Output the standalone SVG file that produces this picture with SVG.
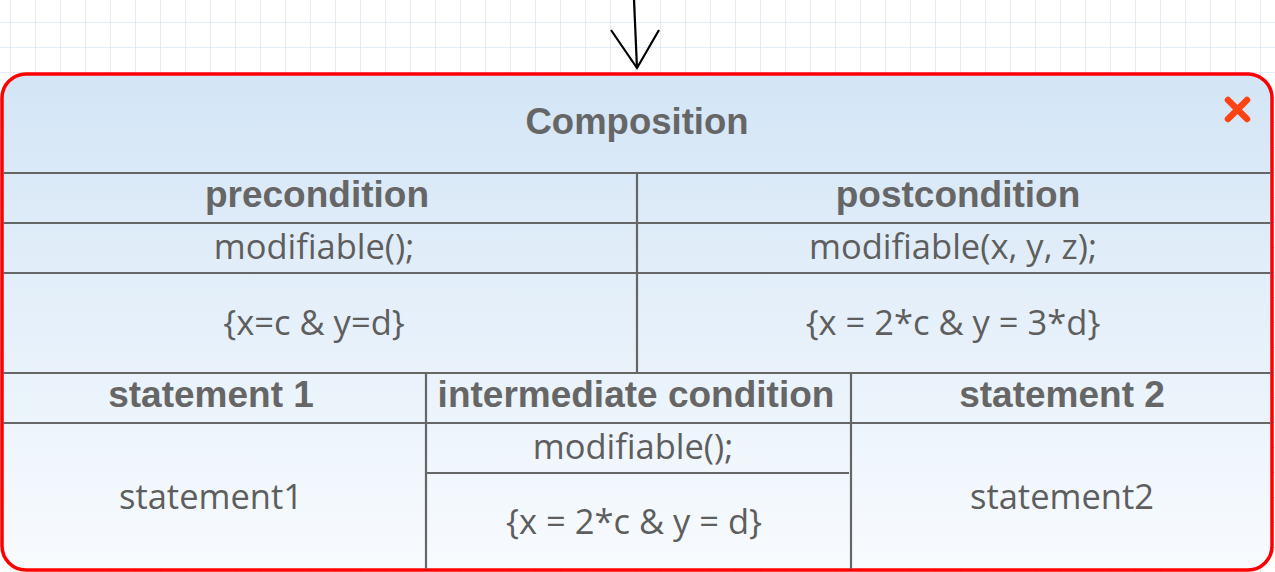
<svg xmlns="http://www.w3.org/2000/svg" width="1275" height="572" viewBox="0 0 1275 572">
<defs>
<pattern id="grid" x="10" y="22" width="25" height="25" patternUnits="userSpaceOnUse">
<path d="M0 0V25M0 0H25" fill="none" stroke="#dbe6f4" stroke-width="1.5"/>
</pattern>
<linearGradient id="bg" x1="0" y1="0" x2="0" y2="1">
<stop offset="0" stop-color="#d3e5f6"/>
<stop offset="1" stop-color="#f8fbfe"/>
</linearGradient>
</defs>
<style>
.div{stroke:#666;stroke-width:2.2;fill:none}
.title{font-family:"Liberation Sans",Arial,sans-serif;font-weight:bold;font-size:37px;fill:#666;text-anchor:middle}
.body{font-family:"Open Sans","Noto Sans",sans-serif;font-size:34.5px;fill:#5e5e5e;text-anchor:middle}
.conn{stroke:#000;stroke-width:2.2;fill:none}
</style>
<rect width="1275" height="572" fill="#fff"/>
<rect width="1275" height="572" fill="url(#grid)"/>
<g id="connectors">
<path class="conn" d="M634 0L637 68"/>
<path class="conn" d="M611 30L637 68L659 30"/>
</g>
<g id="composition">
<rect x="2" y="74" width="1270" height="496" rx="24" fill="url(#bg)" stroke="#ff0000" stroke-width="3.5"/>
<text class="title" x="637" y="134" style="font-size:36.5px">Composition</text>
<path d="M1228 100L1247 119M1247 100L1228 119" stroke="#ff4414" stroke-width="6.5" stroke-linecap="round"/>
<path class="div" d="M3 173H1271M3 223H1271M3 273H1271M3 373H1271M3 423H1271M637 173V373M426 373V569M851 373V569M427 473H849"/>
<text class="title" x="317" y="207">precondition</text>
<text class="title" x="958" y="207">postcondition</text>
<text class="body" x="314" y="259">modifiable();</text>
<text class="body" x="953" y="259">modifiable(x, y, z);</text>
<text class="body" x="314" y="335">{x=c &amp; y=d}</text>
<text class="body" x="953" y="335">{x = 2*c &amp; y = 3*d}</text>
<text class="title" x="211" y="407">statement 1</text>
<text class="title" x="636" y="407">intermediate condition</text>
<text class="title" x="1062" y="407">statement 2</text>
<text class="body" x="211" y="509">statement1</text>
<text class="body" x="633" y="459">modifiable();</text>
<text class="body" x="634" y="534">{x = 2*c &amp; y = d}</text>
<text class="body" x="1062" y="509">statement2</text>
</g>
</svg>
